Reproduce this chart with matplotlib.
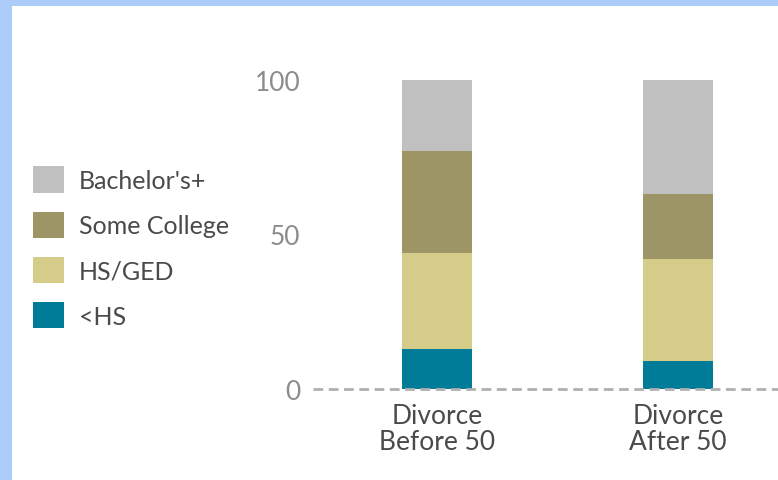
import matplotlib.pyplot as plt
import numpy as np
from matplotlib.patches import Patch, Rectangle

plt.rcParams["font.family"] = ["Lato", "DejaVu Sans"]

groups = ["Divorce\nBefore 50", "Divorce\nAfter 50"]
levels = ["<HS", "HS/GED", "Some College", "Bachelor's+"]
less_hs = [13, 9]
hs_ged = [31, 33]
some_college = [33, 21]
bachelors = [23, 37]
colors = ["#007b98", "#d5cc8a", "#9e9567", "#c0c0c0"]

series = [less_hs, hs_ged, some_college, bachelors]

fig = plt.figure(figsize=(7.78, 4.81), dpi=100)
ax = fig.add_axes([0.402, 0.189, 0.598, 0.643])

x = np.arange(len(groups))
bottom = np.zeros(len(groups))
for vals, color, label in zip(series, colors, levels):
    ax.bar(x, vals, width=0.29, bottom=bottom, color=color, label=label, zorder=2)
    bottom += np.array(vals)

ax.axhline(0, color="#b0b0b0", lw=2, linestyle=(0, (3.5, 2)), zorder=3, clip_on=False)

ax.set_xlim(-0.515, 1.415)
ax.set_ylim(0, 100)
ax.set_yticks([0, 50, 100])
ax.tick_params(axis="y", length=0, pad=9, labelsize=19, labelcolor="#8c8c8c")
ax.set_xticks(x)
ax.set_xticklabels(groups, linespacing=1.05)
ax.tick_params(axis="x", length=0, pad=10, labelsize=19, labelcolor="#4a4a4a")
for s in ax.spines.values():
    s.set_visible(False)

handles = [Patch(facecolor=c, edgecolor="none") for c in colors][::-1]
fig.legend(handles, levels[::-1], loc="upper left", bbox_to_anchor=(0.042, 0.652),
           frameon=False, fontsize=18, handlelength=1.25, handleheight=1.25,
           labelspacing=0.75, handletextpad=0.6, labelcolor="#4a4a4a",
           borderpad=0, borderaxespad=0)

# light blue frame around the panel
fig.patches.append(Rectangle((0, 1 - 7 / 481), 1, 7 / 481, transform=fig.transFigure,
                             facecolor="#adcbf9", edgecolor="none"))
fig.patches.append(Rectangle((0, 0), 12 / 778, 1, transform=fig.transFigure,
                             facecolor="#adcbf9", edgecolor="none"))

fig.savefig("out.png", dpi=100)
